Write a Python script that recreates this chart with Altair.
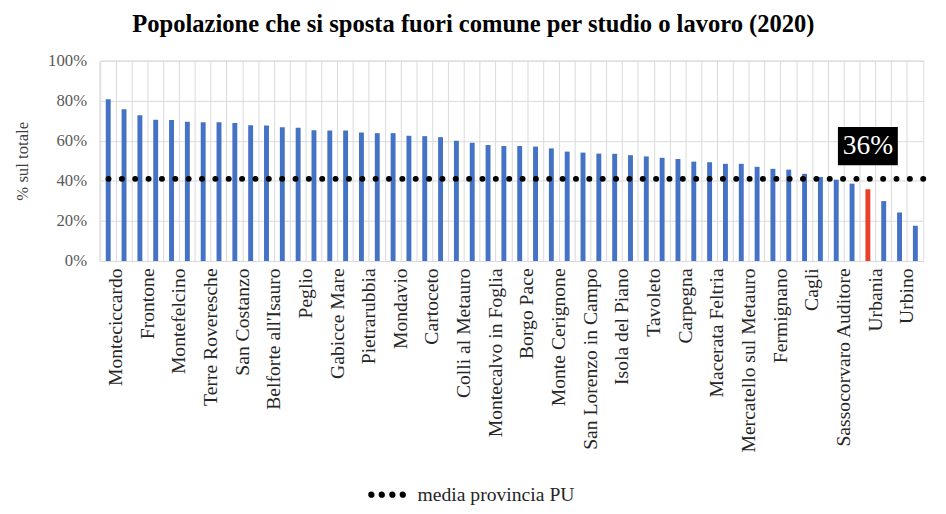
import json
import altair as alt
import pandas as pd

comuni = [
    "Monteciccardo", "Mombaroccio", "Frontone", "Sant'Ippolito", "Montefelcino",
    "Serra Sant'Abbondio", "Terre Roveresche", "Montelabbate", "San Costanzo", "Fratte Rosa",
    "Belforte all'Isauro", "Frontino", "Peglio", "Monte Porzio", "Gabicce Mare",
    "Tavullia", "Pietrarubbia", "Lunano", "Mondavio", "Petriano",
    "Cartoceto", "Mercatino Conca", "Colli al Metauro", "Piandimeleto", "Montecalvo in Foglia",
    "Gradara", "Borgo Pace", "Monte Grimano Terme", "Monte Cerignone", "Montecopiolo",
    "San Lorenzo in Campo", "Vallefoglia", "Isola del Piano", "Apecchio", "Tavoleto",
    "Mondolfo", "Carpegna", "Sassofeltrio", "Macerata Feltria", "Piobbico",
    "Mercatello sul Metauro", "Cantiano", "Fermignano", "Acqualagna", "Cagli",
    "Sant'Angelo in Vado", "Sassocorvaro Auditore", "Pergola", "Urbania", "Fano",
    "Urbino", "Pesaro",
]
percentuali = [
    80.7, 75.8, 72.8, 70.5, 70.4, 69.5, 69.2, 69.2, 68.9, 67.7,
    67.6, 66.7, 66.5, 65.3, 65.1, 65.1, 64.1, 63.8, 63.8, 62.5,
    62.3, 61.8, 60.0, 59.0, 57.9, 57.4, 57.4, 57.1, 56.2, 54.6,
    54.1, 53.6, 53.5, 52.8, 52.2, 51.5, 50.9, 49.6, 49.3, 48.5,
    48.5, 47.0, 46.0, 45.6, 43.5, 41.9, 40.6, 38.6, 35.8, 29.9,
    24.2, 17.6,
]
media_serie = ["media provincia PU"]
media_valori = [41.0]
evidenziato = "Urbania"
y_ticks = [0, 20, 40, 60, 80, 100]

df = pd.DataFrame({"comune": comuni, "pct": percentuali})
mean_df = pd.DataFrame({"serie": media_serie, "media": media_valori})

FONT = "Liberation Serif"
BLUE = "#4472C4"
RED = "#E8412C"
GRID = "#d9d9d9"

label_expr = (
    f"indexof({json.dumps(comuni)}, datum.value) % 2 === 0 ? datum.label : ''"
)

x_enc = alt.X(
    "comune:N",
    sort=comuni,
    scale=alt.Scale(paddingInner=0, paddingOuter=0),
    axis=alt.Axis(
        title=None,
        labelAngle=-90,
        labelExpr=label_expr,
        labelOverlap=False,
        bandPosition=0,
        labelOffset=8,
        ticks=False,
        grid=True,
        gridColor=GRID,
        domainColor=GRID,
        labelFont=FONT,
        labelFontSize=20,
        labelColor="#262626",
        labelPadding=7,
        labelLimit=400,
    ),
)
x_plain = alt.X("comune:N", sort=comuni)

y_enc = alt.Y(
    "pct:Q",
    scale=alt.Scale(domain=[0, 100]),
    axis=alt.Axis(
        title="% sul totale",
        values=y_ticks,
        labelExpr="datum.value + '%'",
        grid=True,
        gridColor=GRID,
        domain=False,
        ticks=False,
        labelFont=FONT,
        labelFontSize=17,
        labelColor="#595959",
        labelPadding=14,
        titleFont=FONT,
        titleFontSize=17,
        titleFontWeight="normal",
        titleColor="#404040",
        titlePadding=16,
    ),
)

bars = alt.Chart(df).mark_bar(size=5).encode(
    x=x_enc,
    y=y_enc,
    color=alt.condition(alt.datum.comune == evidenziato, alt.value(RED), alt.value(BLUE)),
)

r = 0.075
dots_path = "".join(
    f"M{cx - r:.3f},0a{r},{r} 0 1,0 {2 * r},0a{r},{r} 0 1,0 {-2 * r},0"
    for cx in (-0.8, -0.27, 0.27, 0.8)
)

mean_rule = alt.Chart(mean_df).mark_rule(
    strokeDash=[0.1, 13.5], strokeCap="round", strokeWidth=6
).encode(
    y=alt.Y("media:Q"),
    color=alt.Color(
        "serie:N",
        scale=alt.Scale(range=["black"]),
        legend=alt.Legend(
            title=None,
            orient="none",
            legendX=270,
            legendY=420,
            symbolType=dots_path,
            symbolSize=1600,
            symbolStrokeWidth=3.4,
            symbolFillColor="black",
            symbolStrokeColor="black",
            labelFont=FONT,
            labelFontSize=20,
            labelColor="#262626",
            labelOffset=9,
        ),
    ),
)

ann_base = alt.Chart(df).transform_filter(alt.datum.comune == evidenziato)
box = ann_base.mark_point(
    shape="M-1,-0.64H1V0.64H-1Z", size=3721, filled=True, color="black", opacity=1, yOffset=-44
).encode(x=x_plain, y="pct:Q")
label = ann_base.transform_calculate(
    lab="format(datum.pct, '.0f') + '%'"
).mark_text(
    font=FONT, fontSize=28, color="white", yOffset=-44, baseline="middle", align="center"
).encode(x=x_plain, y="pct:Q", text="lab:N")

chart = alt.layer(bars, mean_rule, box, label).properties(
    width=838,
    height=204,
    title=alt.TitleParams(
        "Popolazione che si sposta fuori comune per studio o lavoro (2020)",
        font=FONT,
        fontSize=25,
        fontWeight="bold",
        color="#000000",
        anchor="middle",
        frame="bounds",
        offset=15,
    ),
    padding={"left": 6, "right": 5, "top": 0, "bottom": 3},
).configure_view(stroke=GRID).configure(background="white")

chart.save("out.html", embed_options={"renderer": "svg", "actions": False})
